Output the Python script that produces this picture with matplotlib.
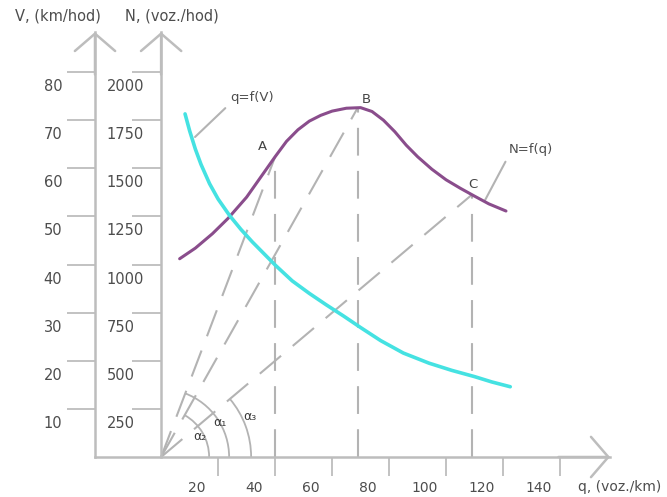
import numpy as np
import matplotlib
matplotlib.use("Agg")
import matplotlib.pyplot as plt
from matplotlib.patches import Arc
from matplotlib.transforms import ScaledTranslation

plt.rcParams["lines.scale_dashes"] = False
plt.rcParams["font.family"] = ["DejaVu Sans"]

# N = f(q)  (density q -> flow N)
q_flow = [6.5, 12, 18, 23.5, 30, 35, 40, 44, 48, 52, 56, 60, 65, 70,
          74, 78, 82, 86, 90, 95, 100, 105, 110, 115, 121]
n_flow = [1030, 1085, 1160, 1240, 1350, 1455, 1560, 1640, 1700, 1745, 1775, 1797, 1812, 1815,
          1795, 1750, 1690, 1620, 1560, 1495, 1440, 1396, 1355, 1315, 1278]

# q = f(V)  (density q -> speed V)
q_speed = [8.4, 10, 12, 14, 17, 20, 24, 28, 32, 36, 40, 46, 52,
           58, 64, 70, 77, 85, 94, 102, 110, 116, 122.5]
v_speed = [71.3, 67.8, 64.0, 60.8, 56.8, 53.6, 50.2, 47.3, 44.7, 42.3, 39.9, 36.6, 34.0,
           31.6, 29.3, 26.9, 24.2, 21.6, 19.5, 18.0, 16.7, 15.6, 14.6]

# characteristic points on N = f(q)
pt_names = ["A", "B", "C"]
pt_q = [40, 69, 109]
pt_n = [1560, 1815, 1362]

angle_names = ["α₁", "α₂", "α₃"]

v_ticks = [10, 20, 30, 40, 50, 60, 70, 80]
n_ticks = [250, 500, 750, 1000, 1250, 1500, 1750, 2000]
q_ticks = [20, 40, 60, 80, 100, 120, 140]

AXIS = "#bdbdbd"
DASH = "#b3b3b3"
TEXT = "#4d4d4d"
PURPLE = "#8a4d8c"
CYAN = "#45e2e2"
FS = 10.5

W, H = 667, 497
fig = plt.figure(figsize=(W / 100, H / 100), dpi=100)
px_l, px_r, px_b, px_t = 95, 610, 457, 32
ax = fig.add_axes([px_l / W, 1 - px_b / H, (px_r - px_l) / W, (px_b - px_t) / H])
ax.set_xlim(-23.2, 157.5)
ax.set_ylim(0, 2208)
axv = ax.twinx()
axv.set_ylim(0, 2208 / 25)
ax.patch.set_visible(False)

# spines
for s in ["top", "right"]:
    ax.spines[s].set_visible(False)
ax.spines["left"].set_position(("data", 0))
for sp in [ax.spines["left"], ax.spines["bottom"]]:
    sp.set_color(AXIS)
    sp.set_linewidth(1.8)
for s in ["top", "right", "bottom"]:
    axv.spines[s].set_visible(False)
axv.spines["left"].set_visible(True)
axv.spines["left"].set_position(("axes", 0))
axv.spines["left"].set_color(AXIS)
axv.spines["left"].set_linewidth(1.8)
axv.yaxis.set_ticks_position("left")

# ticks
ax.set_xticks(q_ticks, [str(v) for v in q_ticks])
ax.tick_params(axis="x", length=14, width=1.3, color=AXIS, pad=3,
               labelsize=FS - 0.5, labelcolor=TEXT)
for lab in ax.get_xticklabels():
    lab.set_transform(lab.get_transform() + ScaledTranslation(-0.21, 0, fig.dpi_scale_trans))

ax.set_yticks(n_ticks, [str(v) for v in n_ticks])
ax.tick_params(axis="y", length=21, width=1.3, color=AXIS, pad=0,
               labelsize=FS, labelcolor=TEXT)
for lab in ax.get_yticklabels():
    lab.set_horizontalalignment("left")
    lab.set_transform(lab.get_transform() + ScaledTranslation(-0.255, -0.13, fig.dpi_scale_trans))

axv.set_yticks(v_ticks, [str(v) for v in v_ticks])
axv.tick_params(axis="y", length=20, width=1.3, color=AXIS, pad=3.5,
                labelsize=FS, labelcolor=TEXT, left=True, labelleft=True,
                right=False, labelright=False)
for lab in axv.get_yticklabels():
    lab.set_transform(lab.get_transform() + ScaledTranslation(0, -0.13, fig.dpi_scale_trans))

# axis arrows (open chevrons)
astyle = "->,head_length=1.25,head_width=1.45"
akw = dict(arrowstyle=astyle, color=AXIS, lw=1.8, shrinkA=0, shrinkB=0)
ax.annotate("", xy=(0, 1), xytext=(0, 0.9), xycoords="axes fraction", arrowprops=akw)
ax.annotate("", xy=(0, 1), xytext=(0, 0.9), xycoords=("data", "axes fraction"), arrowprops=akw)
ax.annotate("", xy=(1, 0), xytext=(0.9, 0), xycoords="axes fraction", arrowprops=akw)

# dashed construction lines
dash = (0, (20, 11))
origin = ax.transData.transform((0, 0))
for name, q, n in zip(pt_names, pt_q, pt_n):
    ax.plot([q, q], [0, n], color=DASH, lw=1.5, ls=dash, zorder=2)
    ax.plot([0, q], [0, n], color=DASH, lw=1.5, ls=dash, zorder=2)

# angle arcs at the origin
arc_r = {"A": 68, "B": 48, "C": 90}
lab_pos = {"A": (59, 35), "B": (39, 20), "C": (89, 40)}
for name, aname, q, n in zip(pt_names, angle_names, pt_q, pt_n):
    p = ax.transData.transform((q, n))
    ang = np.degrees(np.arctan2(p[1] - origin[1], p[0] - origin[0]))
    r = arc_r[name]
    tr = fig.dpi_scale_trans + ScaledTranslation(0, 0, ax.transData)
    ax.add_patch(Arc((0, 0), 2 * r / 100, 2 * r / 100, theta1=0, theta2=ang,
                     transform=tr, color=DASH, lw=1.3, clip_on=False))
    dx, dy = lab_pos[name]
    ax.annotate(aname, xy=(0, 0), xytext=(dx * 0.72, dy * 0.72), textcoords="offset points",
                fontsize=9, color="#3a3a3a", ha="center", va="center")

# curves
ax.plot(q_flow, n_flow, color=PURPLE, lw=2.2, zorder=4, solid_capstyle="round")
axv.plot(q_speed, v_speed, color=CYAN, lw=2.6, zorder=3, solid_capstyle="round")

# point labels
offs = {"A": (-13, 10), "B": (9, 8), "C": (1, 10)}
for name, q, n in zip(pt_names, pt_q, pt_n):
    dx, dy = offs[name]
    ax.annotate(name, xy=(q, n), xytext=(dx * 0.72, dy * 0.72), textcoords="offset points",
                fontsize=9.5, color="#444444", ha="center", va="center")

# curve labels
axv.annotate("q=f(V)", xy=(11.9, 66.5), xytext=(24.2, 74.8), fontsize=9.5, color=TEXT,
             ha="left", va="center",
             arrowprops=dict(arrowstyle="-", color=DASH, lw=1.5, shrinkA=2, shrinkB=0,
                             relpos=(0, 0)))
ax.annotate("N=f(q)", xy=(113.5, 1330), xytext=(121.8, 1595), fontsize=9.5, color=TEXT,
            ha="left", va="center",
            arrowprops=dict(arrowstyle="-", color=DASH, lw=1.5, shrinkA=2, shrinkB=0,
                            relpos=(0, 0)))

# axis titles
fig.text(15 / W, 1 - 16 / H, "V, (km/hod)", fontsize=10.5, color=TEXT, ha="left", va="center")
fig.text(125 / W, 1 - 16 / H, "N, (voz./hod)", fontsize=10.5, color=TEXT, ha="left", va="center")
fig.text(578 / W, 1 - 487 / H, "q, (voz./km)", fontsize=10, color=TEXT, ha="left", va="center")

fig.savefig("out.png", dpi=100, facecolor="white")
